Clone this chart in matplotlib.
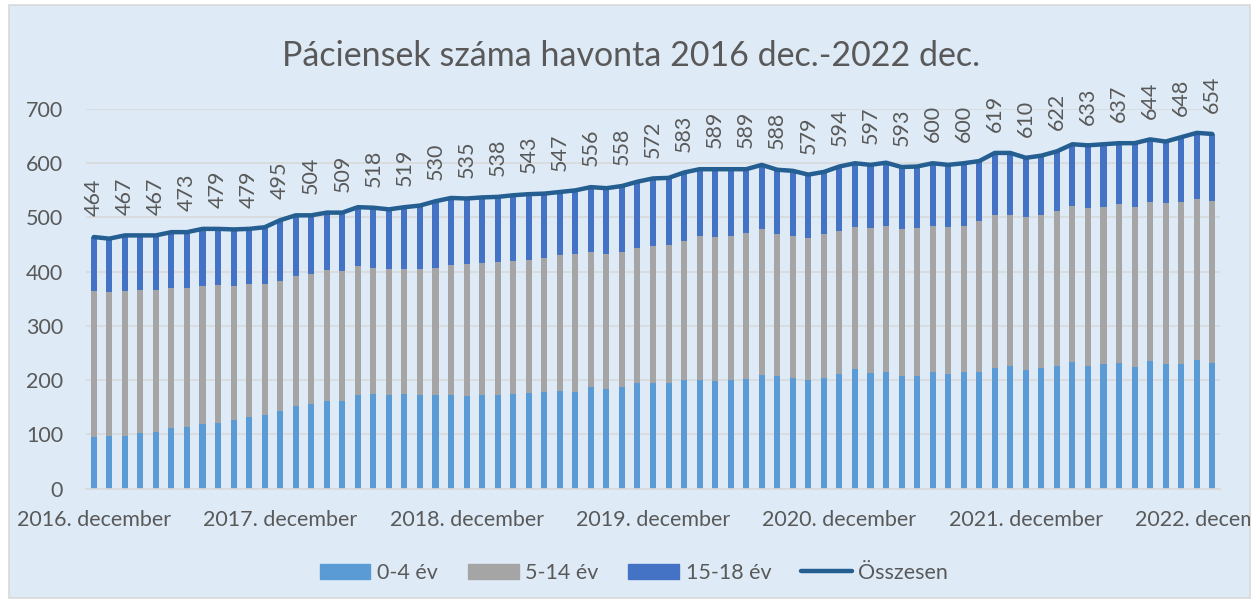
import numpy as np
import matplotlib.pyplot as plt
from matplotlib.patches import Rectangle, Patch
from matplotlib.lines import Line2D
from matplotlib.transforms import Bbox, TransformedBbox

# havi adatok 2016 dec - 2022 dec (73 honap)
years = [2016, 2017, 2018, 2019, 2020, 2021, 2022]
age_0_4 = [96, 98, 98, 102, 105, 111, 114, 120, 122, 126,
           133, 135, 144, 153, 157, 161, 162, 173, 174, 172,
           174, 172, 173, 173, 170, 172, 173, 174, 176, 179,
           181, 179, 187, 183, 188, 194, 194, 195, 201, 201,
           199, 201, 203, 210, 207, 205, 200, 205, 212, 220,
           214, 216, 207, 208, 216, 212, 216, 216, 222, 227,
           218, 222, 227, 233, 227, 229, 231, 225, 236, 229,
           229, 238, 231]
# 0-14 ev egyutt (a szurke oszlopresz teteje)
upto_14 = [364, 362, 365, 367, 367, 370, 370, 374, 375, 373,
           378, 377, 383, 393, 396, 403, 402, 411, 407, 405,
           405, 405, 407, 413, 415, 417, 418, 420, 422, 426,
           431, 433, 436, 433, 436, 443, 447, 449, 456, 466,
           464, 466, 471, 479, 470, 466, 462, 469, 475, 482,
           481, 485, 478, 481, 485, 482, 485, 493, 504, 505,
           500, 504, 512, 522, 518, 520, 524, 520, 529, 526,
           529, 535, 530]
total = [464, 461, 467, 467, 467, 473, 473, 479, 479, 478,
         479, 482, 495, 504, 504, 509, 509, 519, 518, 515,
         519, 522, 530, 536, 535, 537, 538, 541, 543, 544,
         547, 550, 556, 554, 558, 566, 572, 573, 583, 589,
         589, 589, 589, 597, 588, 586, 579, 584, 594, 600,
         597, 601, 593, 594, 600, 597, 600, 604, 619, 619,
         610, 614, 622, 635, 633, 635, 637, 637, 644, 640,
         648, 656, 654]

a = np.array(age_0_4)
b = np.array(upto_14) - a
c = np.array(total) - np.array(upto_14)
x = np.arange(len(total))

txt = '#595959'
fs = 15.5
plt.rcParams['font.family'] = ['Lato', 'DejaVu Sans']

fig = plt.figure(figsize=(12.59, 6.03), dpi=100)
fig.patch.set_facecolor('white')
fig.patches.append(Rectangle((9 / 1259, 5 / 603), 1241 / 1259, 593 / 603,
                             transform=fig.transFigure, facecolor='#DEEBF7',
                             edgecolor='#D9D9D9', lw=1.2, zorder=-5))

ax = fig.add_axes([86 / 1259, 1 - 488.7 / 603, 1134 / 1259, 379.7 / 603])
ax.set_facecolor('none')

w = 0.39
ax.bar(x, a, w, color='#5B9BD5')
ax.bar(x, b, w, bottom=a, color='#A5A5A5')
ax.bar(x, c, w, bottom=np.array(upto_14), color='#4472C4')
ax.plot(x, total, color='#255E91', lw=3.2, solid_joinstyle='round', solid_capstyle='round')

for i in range(0, len(total), 2):
    ax.annotate(str(total[i]), (x[i], total[i]), xytext=(0, 15), textcoords='offset points',
                rotation=90, ha='center', va='bottom', fontsize=fs, color=txt,
                annotation_clip=False)

ax.set_xlim(-0.5, len(total) - 0.5)
ax.set_ylim(0, 700)
ax.set_yticks(range(0, 701, 100))
ax.set_xticks(x[::12], [f'{y}. december' for y in years])
ax.tick_params(length=0, labelsize=fs, labelcolor=txt)
ax.tick_params(axis='x', pad=15)
ax.tick_params(axis='y', pad=16.5)
ax.grid(axis='y', color='#D9D9D9', lw=1.2)
ax.set_axisbelow(True)
for s in ['top', 'right', 'left']:
    ax.spines[s].set_visible(False)
ax.spines['bottom'].set_color('#D9D9D9')
ax.spines['bottom'].set_linewidth(1.2)

fig.text(0.501, 1 - 56 / 603, 'Páciensek száma havonta 2016 dec.-2022 dec.',
         ha='center', va='center', fontsize=24.5, color=txt)

handles = [Patch(color='#5B9BD5'), Patch(color='#A5A5A5'), Patch(color='#4472C4'),
           Line2D([], [], color='#255E91', lw=3.2, solid_capstyle='round')]
fig.legend(handles, ['0-4 év', '5-14 év', '15-18 év', 'Összesen'], loc='center',
           bbox_to_anchor=(0.5036, 1 - 573 / 603), ncol=4, frameon=False, fontsize=fs,
           handlelength=2.35, handleheight=0.75, handletextpad=0.3, columnspacing=1.4,
           labelcolor=txt)

fig.canvas.draw()
clip = TransformedBbox(Bbox([[9 / 1259, 0], [1250 / 1259, 1]]), fig.transFigure)
for lbl in ax.get_xticklabels():
    lbl.set_clip_box(clip)
    lbl.set_clip_on(True)

fig.savefig('out.png', dpi=100)
